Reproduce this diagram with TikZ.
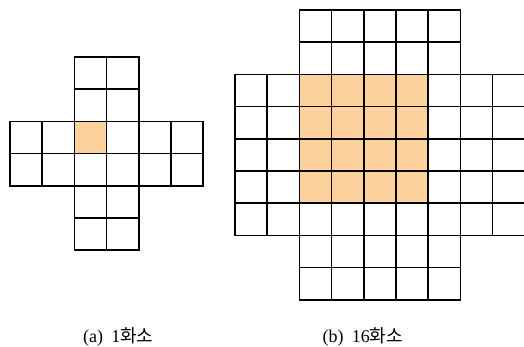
\documentclass[tikz,border=0pt]{standalone}
\usepackage{fontspec}
\setmainfont{Liberation Serif}
\newfontfamily\krfont{Noto Sans CJK KR}
\definecolor{cellorange}{RGB}{253,209,155}
\begin{document}
\begin{tikzpicture}[x=1pt,y=-1pt,
  cellbox/.style={draw=black,line width=1.6pt},
  hotcell/.style={fill=cellorange},
  lab/.style={anchor=base west,inner sep=0pt,font=\fontsize{18}{20}\selectfont}]
\useasboundingbox (0,0) rectangle (524,347);
\clip (0,0) rectangle (524,347);
\def\csz{32.2}
% ---- left: 1 pixel ----
\fill[hotcell] (10+2*\csz,57+2*\csz) rectangle ++(\csz,\csz);
\foreach \c in {0,...,5}{
  \foreach \r in {0,...,5}{
    \pgfmathtruncatemacro\ok{or(and(\c>1,\c<4),and(\r>1,\r<4))}
    \ifnum\ok=1
      \draw[cellbox] (10+\c*\csz,57+\r*\csz) rectangle ++(\csz,\csz);
    \fi
  }
}
% ---- right: 16 pixels ----
\fill[hotcell] (235+2*\csz,10+2*\csz) rectangle ++(4*\csz,4*\csz);
\foreach \c in {0,...,8}{
  \foreach \r in {0,...,8}{
    \pgfmathtruncatemacro\ok{or(and(\c>1,\c<7),and(\r>1,\r<7))}
    \ifnum\ok=1
      \draw[cellbox] (235+\c*\csz,10+\r*\csz) rectangle ++(\csz,\csz);
    \fi
  }
}
% ---- labels ----
\node[lab] (la) at (83,342.5) {(a)\hspace{0.45em}1{\krfont 화소}};
\node[lab] (lb) at (322.5,342.5) {(b)\hspace{0.45em}16{\krfont 화소}};
\end{tikzpicture}
\end{document}
